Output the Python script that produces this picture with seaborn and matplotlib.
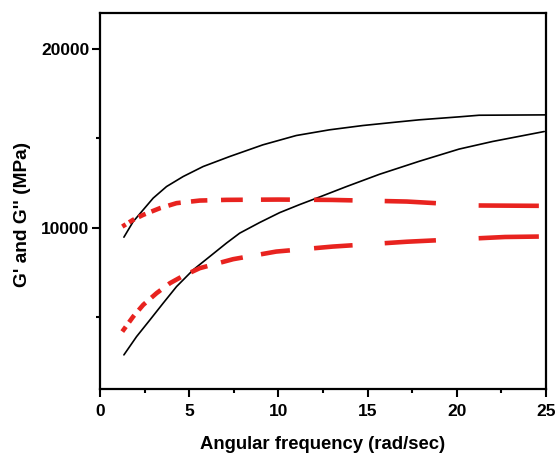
import matplotlib
matplotlib.use("Agg")
import matplotlib.pyplot as plt
import seaborn as sns
import numpy as np
from matplotlib.ticker import MultipleLocator

# --- data ---
x_black_upper = [1.34, 1.86, 2.42, 2.98, 3.73, 4.66, 5.78, 7.27, 9.13, 11.0, 12.86, 14.73, 16.59, 17.9, 20.13, 21.25, 25.0]
y_black_upper = [9480, 10350, 11006, 11660, 12307, 12866, 13425, 13985, 14637, 15157, 15475, 15715, 15905, 16034, 16200, 16290, 16310]

x_black_lower = [1.34, 2.05, 2.8, 3.54, 4.29, 5.22, 6.15, 7.09, 7.83, 8.95, 10.07, 11.19, 12.3, 13.8, 15.66, 17.9, 20.13, 22.0, 24.9]
y_black_lower = [2905, 3927, 4860, 5793, 6720, 7653, 8397, 9150, 9704, 10298, 10850, 11300, 11720, 12300, 12990, 13720, 14400, 14823, 15380]

x_red_upper = [1.25, 1.86, 2.42, 3.36, 4.29, 5.59, 7.09, 10.0, 13.0, 17.2, 21.1, 24.6]
y_red_upper = [10073, 10450, 10726, 11100, 11380, 11525, 11564, 11580, 11560, 11470, 11250, 11230]

x_red_lower = [1.25, 1.86, 2.42, 3.17, 3.92, 4.66, 5.59, 7.46, 9.88, 13.05, 17.2, 22.7, 24.6]
y_red_lower = [4207, 5045, 5698, 6352, 6910, 7318, 7748, 8250, 8676, 8955, 9225, 9490, 9514]

x_ticks = [0, 5, 10, 15, 20, 25]
y_ticks = [10000, 20000]

sns.set_style("ticks")
plt.rcParams['font.family'] = ['Liberation Sans', 'DejaVu Sans']

fig = plt.figure(figsize=(5.59, 4.57), dpi=100)
ax = fig.add_axes([100/559, 1-389/457, 446/559, 376/457])

red = '#e8231f'
black_kw = dict(ax=ax, color='black', lw=1.2, sort=False, estimator=None)
sns.lineplot(x=x_black_upper, y=y_black_upper, **black_kw)
sns.lineplot(x=x_black_lower, y=y_black_lower, **black_kw)

# red curves: dash pattern that is regular in log(x), as in the original software
dash_anchor, dash_period, dash_len = 5.1, np.log(1.33), np.log(1.18)

def dashed_series(xs, ys):
    xs = np.asarray(xs, float)
    ys = np.asarray(ys, float)
    k0 = int(np.floor((np.log(xs[0]) - np.log(dash_anchor)) / dash_period)) - 1
    k1 = int(np.ceil((np.log(xs[-1]) - np.log(dash_anchor)) / dash_period)) + 1
    for k in range(k0, k1 + 1):
        a = dash_anchor * np.exp(k * dash_period)
        b = a * np.exp(dash_len)
        a, b = max(a, xs[0]), min(b, xs[-1])
        if a >= b:
            continue
        seg_x = np.concatenate([[a], xs[(xs > a) & (xs < b)], [b]])
        seg_y = np.interp(seg_x, xs, ys)
        sns.lineplot(x=seg_x, y=seg_y, ax=ax, color=red, lw=3.3, sort=False,
                     estimator=None, solid_capstyle='butt')

dashed_series(x_red_upper, y_red_upper)
dashed_series(x_red_lower, y_red_lower)

ax.set_xlim(0, 25)
ax.set_ylim(1000, 22000)
ax.set_xticks(x_ticks)
ax.set_yticks(y_ticks)
ax.xaxis.set_minor_locator(MultipleLocator(2.5))
ax.yaxis.set_minor_locator(MultipleLocator(5000))
ax.tick_params(which='major', direction='out', length=5.5, width=1.5,
               labelsize=12.5, colors='black')
ax.tick_params(axis='y', which='major', pad=2)
ax.tick_params(axis='x', which='major', pad=5)
ax.tick_params(which='minor', direction='out', length=3, width=1.5, colors='black')
for lab in ax.get_xticklabels() + ax.get_yticklabels():
    lab.set_fontweight('bold')
for sp in ax.spines.values():
    sp.set_visible(True)
    sp.set_linewidth(1.6)
    sp.set_color('black')

ax.set_xlabel("Angular frequency (rad/sec)", fontsize=13.3, fontweight='bold', color='black')
ax.set_ylabel("G' and G'' (MPa)", fontsize=13.8, fontweight='bold', color='black')
ax.xaxis.set_label_coords(0.5, -0.125)
ax.yaxis.set_label_coords(-0.154, 0.465)

fig.savefig("out.png", dpi=100)
